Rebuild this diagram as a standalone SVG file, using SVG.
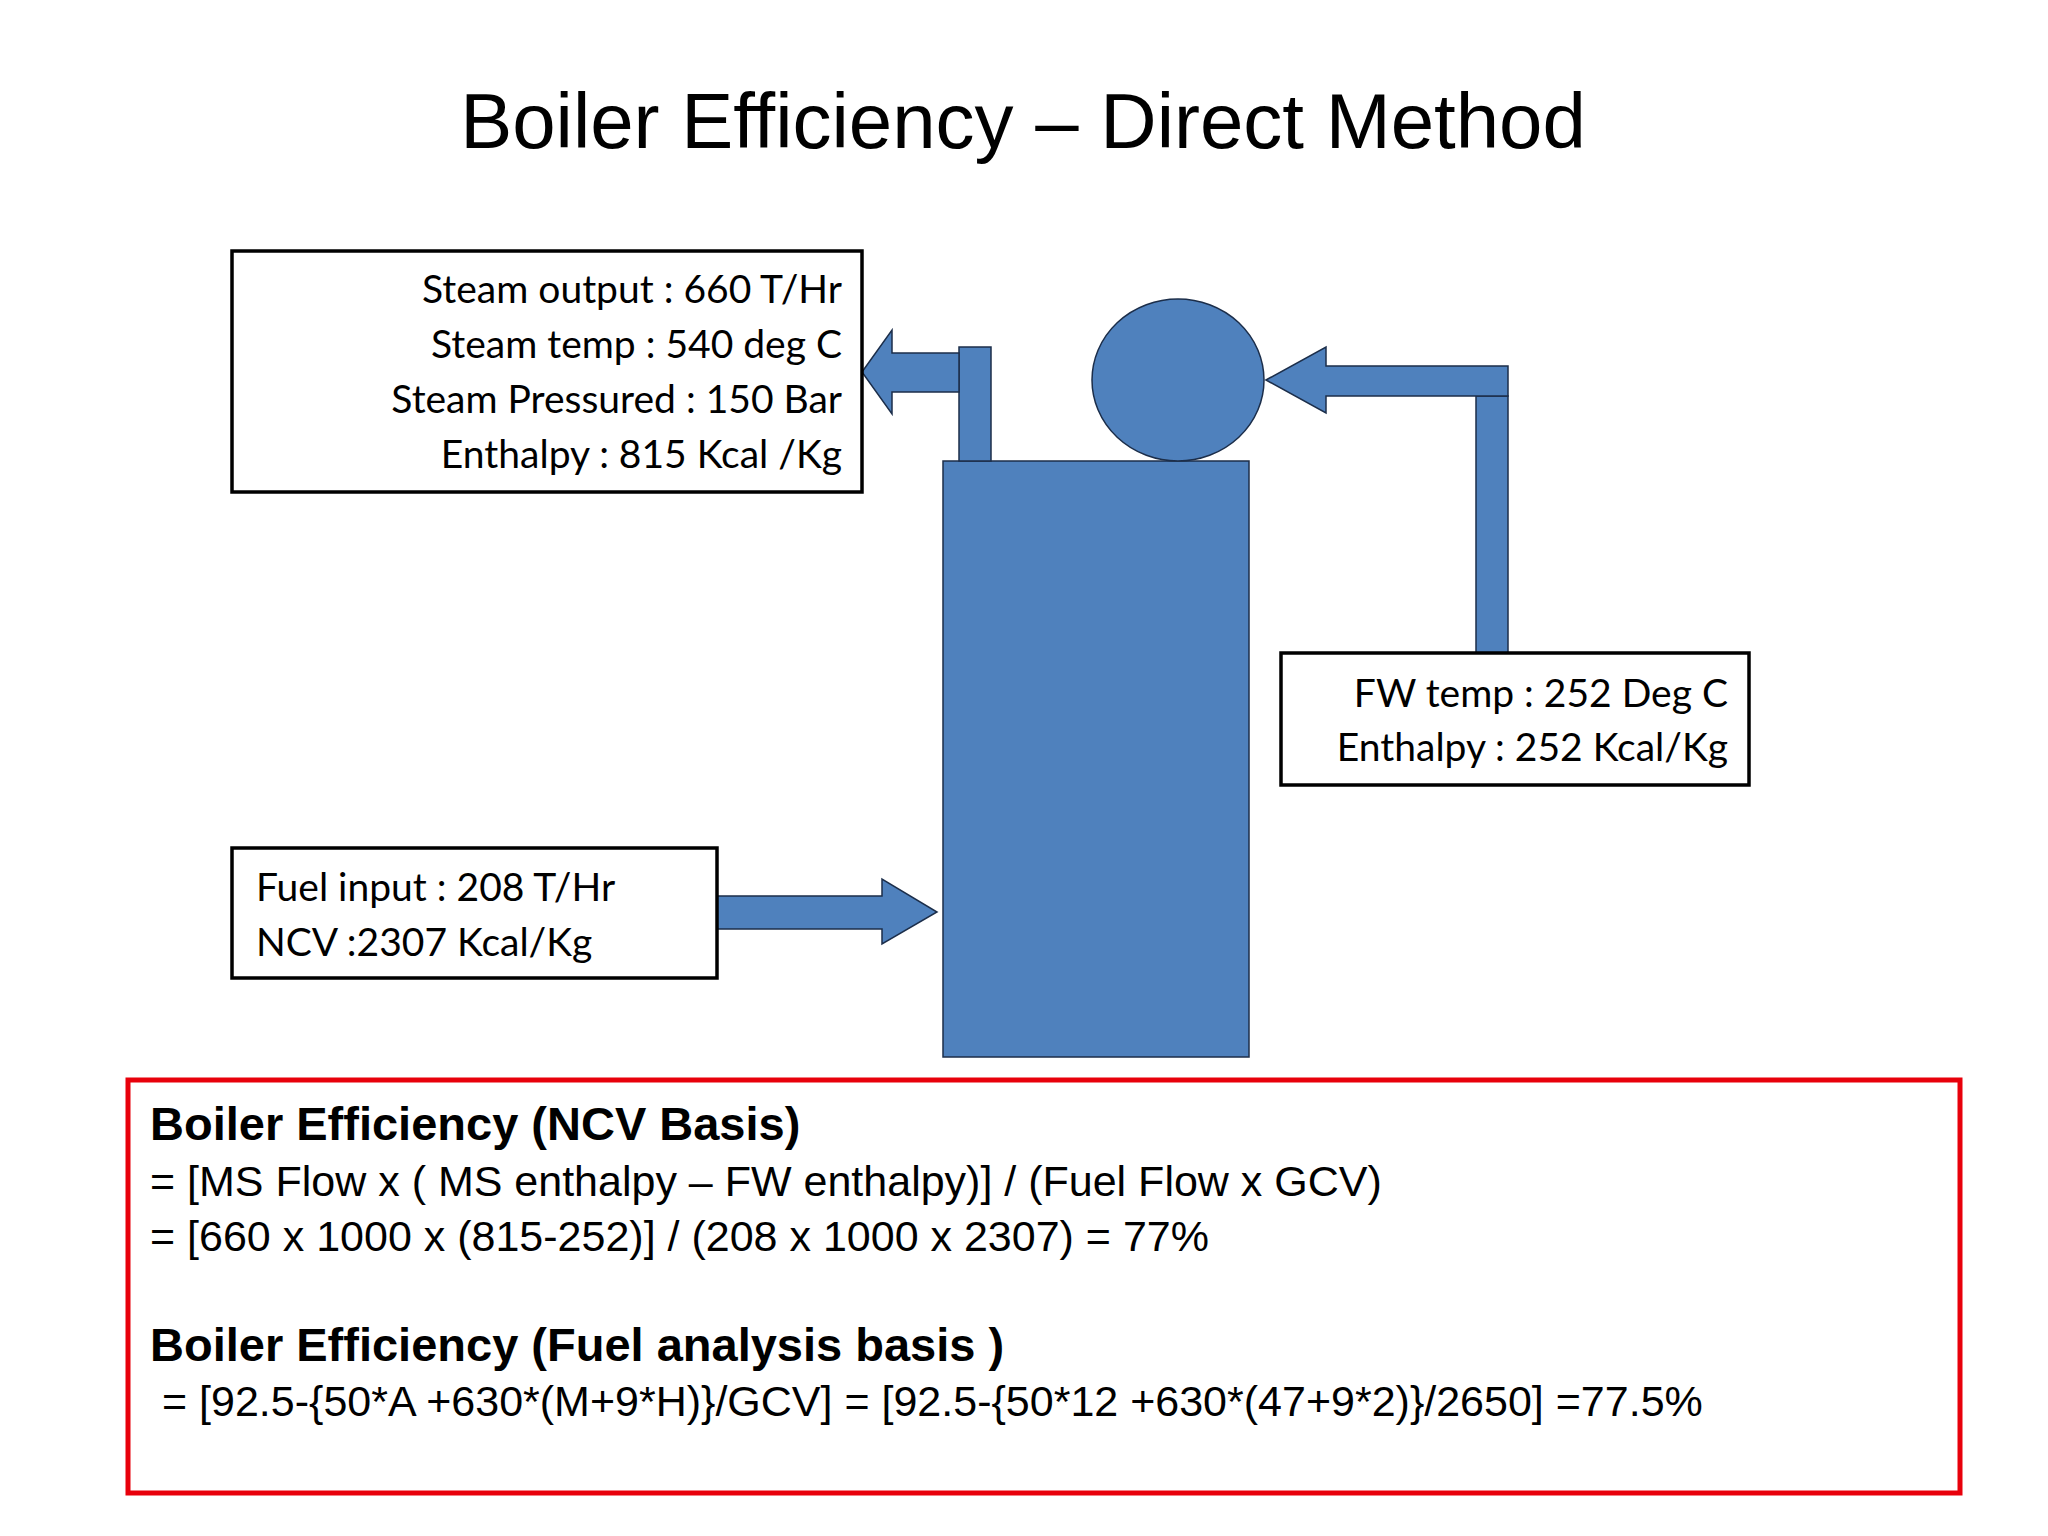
<svg xmlns="http://www.w3.org/2000/svg" width="2048" height="1536" viewBox="0 0 2048 1536">
<style>
.b{fill:#4F81BD;stroke:#1c2e4a;stroke-width:1.5}
.box{fill:#fff;stroke:#000;stroke-width:3.5}
.t{font-family:Lato,"Open Sans",sans-serif;font-size:39px;fill:#000}
.f{font-family:"Liberation Sans",Arial,sans-serif;font-size:43px;fill:#000}
.fb{font-family:"Liberation Sans",Arial,sans-serif;font-size:47px;font-weight:bold;fill:#000}
</style>
<rect width="2048" height="1536" fill="#fff"/>
<text x="1023" y="148" text-anchor="middle" font-family="Liberation Sans,Arial,sans-serif" font-size="78">Boiler Efficiency – Direct Method</text>
<g id="boiler"><rect class="b" x="943" y="461" width="306" height="596"/></g>
<g id="drum"><ellipse class="b" cx="1178" cy="380" rx="86" ry="81"/></g>
<g id="connectors">
<rect class="b" x="959" y="347" width="32" height="114"/>
<polygon class="b" points="862,372 892,330 892,353 959,353 959,392 892,392 892,414"/>
<rect class="b" x="1476" y="396" width="32" height="257"/>
<polygon class="b" points="1266,380 1326,347 1326,366 1508,366 1508,396 1326,396 1326,413"/>
<polygon class="b" points="717,896 882,896 882,879 937,912 882,944 882,929 717,929"/>
</g>
<g id="steam">
<rect class="box" x="232" y="251" width="630" height="241"/>
<text class="t" text-anchor="end" x="842" y="303">Steam output  : 660 T/Hr</text>
<text class="t" text-anchor="end" x="842" y="358">Steam temp : 540 deg C</text>
<text class="t" text-anchor="end" x="842" y="413">Steam Pressured  : 150 Bar</text>
<text class="t" text-anchor="end" x="842" y="468">Enthalpy : 815 Kcal /Kg</text>
</g>
<g id="fw">
<rect class="box" x="1281" y="653" width="468" height="132"/>
<text class="t" text-anchor="end" x="1728" y="707">FW temp : 252 Deg C</text>
<text class="t" text-anchor="end" x="1728" y="761">Enthalpy : 252 Kcal/Kg</text>
</g>
<g id="fuel">
<rect class="box" x="232" y="848" width="485" height="130" stroke-width="2.5"/>
<text class="t" x="256" y="901">Fuel input : 208 T/Hr</text>
<text class="t" x="256" y="956">NCV :2307 Kcal/Kg</text>
</g>
<g id="formula">
<rect x="128" y="1080" width="1832" height="413" fill="none" stroke="#e8000b" stroke-width="5"/>
<text class="fb" x="150" y="1140">Boiler Efficiency (NCV Basis)</text>
<text class="f" x="150" y="1196">= [MS Flow x ( MS enthalpy – FW enthalpy)] / (Fuel Flow x GCV)</text>
<text class="f" x="150" y="1251">= [660 x 1000 x (815-252)] / (208 x 1000 x 2307) = 77%</text>
<text class="fb" x="150" y="1361">Boiler Efficiency (Fuel analysis basis )</text>
<text class="f" x="162" y="1416">= [92.5-{50*A +630*(M+9*H)}/GCV] = [92.5-{50*12 +630*(47+9*2)}/2650] =77.5%</text>
</g>
</svg>
